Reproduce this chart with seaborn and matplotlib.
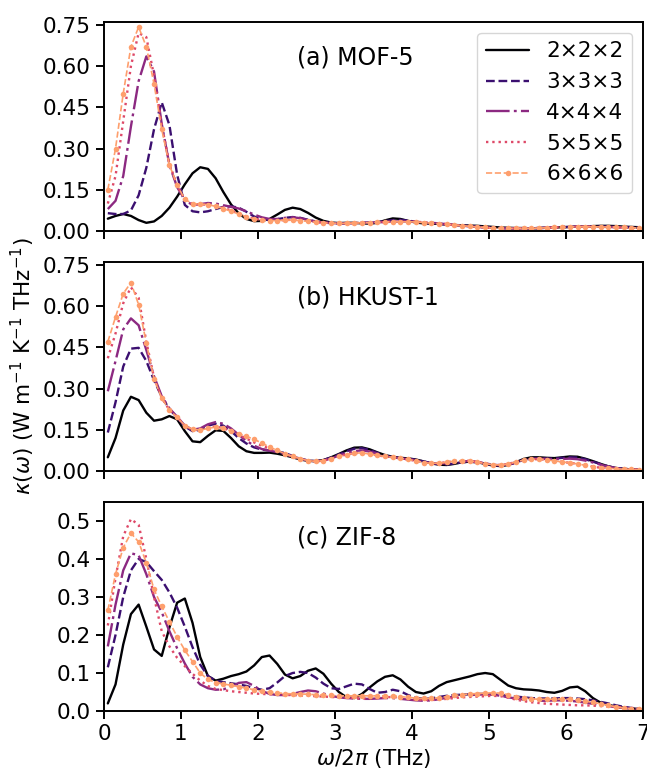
import matplotlib
matplotlib.use("Agg")
import matplotlib.pyplot as plt
import seaborn as sns

# ---------------- data ----------------
FREQ = [0.05, 0.15, 0.25, 0.35, 0.45, 0.55, 0.65, 0.75, 0.85, 0.95,
        1.05, 1.15, 1.25, 1.35, 1.45, 1.55, 1.65, 1.75, 1.85, 1.95,
        2.05, 2.15, 2.25, 2.35, 2.45, 2.55, 2.65, 2.75, 2.85, 2.95,
        3.05, 3.15, 3.25, 3.35, 3.45, 3.55, 3.65, 3.75, 3.85, 3.95,
        4.05, 4.15, 4.25, 4.35, 4.45, 4.55, 4.65, 4.75, 4.85, 4.95,
        5.05, 5.15, 5.25, 5.35, 5.45, 5.55, 5.65, 5.75, 5.85, 5.95,
        6.05, 6.15, 6.25, 6.35, 6.45, 6.55, 6.65, 6.75, 6.85, 6.95]

SUPERCELLS = ["2×2×2", "3×3×3", "4×4×4", "5×5×5", "6×6×6"]
PANEL_LABELS = ["(a) MOF-5", "(b) HKUST-1", "(c) ZIF-8"]

# (a) MOF-5
MOF5_2 = [0.045, 0.055, 0.062, 0.055, 0.040, 0.030, 0.035, 0.055, 0.085, 0.125,
          0.170, 0.210, 0.232, 0.226, 0.192, 0.142, 0.097, 0.064, 0.044, 0.036,
          0.037, 0.044, 0.060, 0.077, 0.085, 0.080, 0.066, 0.049, 0.037, 0.031,
          0.029, 0.030, 0.030, 0.028, 0.027, 0.030, 0.039, 0.046, 0.044, 0.037,
          0.031, 0.028, 0.027, 0.026, 0.024, 0.022, 0.021, 0.020, 0.019, 0.017,
          0.015, 0.013, 0.012, 0.011, 0.011, 0.010, 0.011, 0.012, 0.013, 0.014,
          0.015, 0.016, 0.017, 0.018, 0.019, 0.019, 0.018, 0.016, 0.015, 0.014]
MOF5_3 = [0.065, 0.062, 0.062, 0.075, 0.130, 0.230, 0.370, 0.468, 0.385, 0.205,
          0.095, 0.072, 0.068, 0.072, 0.080, 0.088, 0.090, 0.085, 0.070, 0.053,
          0.043, 0.040, 0.043, 0.048, 0.051, 0.048, 0.041, 0.035, 0.031, 0.029,
          0.028, 0.028, 0.029, 0.030, 0.031, 0.033, 0.036, 0.040, 0.041, 0.038,
          0.034, 0.030, 0.028, 0.026, 0.024, 0.022, 0.020, 0.018, 0.016, 0.014,
          0.012, 0.011, 0.010, 0.010, 0.010, 0.010, 0.011, 0.012, 0.013, 0.014,
          0.015, 0.016, 0.016, 0.017, 0.017, 0.016, 0.015, 0.014, 0.013, 0.012]
MOF5_4 = [0.080, 0.110, 0.200, 0.380, 0.545, 0.635, 0.580, 0.390, 0.240, 0.160,
          0.112, 0.095, 0.098, 0.102, 0.100, 0.094, 0.088, 0.082, 0.072, 0.060,
          0.050, 0.044, 0.044, 0.048, 0.050, 0.047, 0.040, 0.034, 0.031, 0.029,
          0.028, 0.028, 0.029, 0.030, 0.031, 0.032, 0.033, 0.034, 0.035, 0.035,
          0.034, 0.032, 0.030, 0.028, 0.025, 0.022, 0.020, 0.017, 0.015, 0.013,
          0.011, 0.010, 0.010, 0.010, 0.010, 0.010, 0.011, 0.012, 0.013, 0.015,
          0.016, 0.016, 0.016, 0.016, 0.015, 0.015, 0.014, 0.013, 0.012, 0.011]
MOF5_5 = [0.100, 0.200, 0.400, 0.600, 0.720, 0.705, 0.565, 0.385, 0.245, 0.165,
          0.115, 0.098, 0.097, 0.096, 0.092, 0.085, 0.075, 0.064, 0.053, 0.045,
          0.040, 0.038, 0.038, 0.040, 0.041, 0.039, 0.036, 0.033, 0.031, 0.029,
          0.028, 0.028, 0.029, 0.030, 0.031, 0.032, 0.033, 0.034, 0.035, 0.035,
          0.034, 0.032, 0.030, 0.028, 0.025, 0.022, 0.020, 0.017, 0.015, 0.013,
          0.011, 0.010, 0.010, 0.010, 0.010, 0.010, 0.011, 0.012, 0.013, 0.015,
          0.016, 0.016, 0.016, 0.016, 0.015, 0.015, 0.014, 0.013, 0.012, 0.011]
MOF5_6 = [0.150, 0.300, 0.500, 0.670, 0.742, 0.670, 0.535, 0.370, 0.240, 0.168,
          0.115, 0.100, 0.098, 0.096, 0.090, 0.082, 0.072, 0.062, 0.052, 0.044,
          0.040, 0.038, 0.038, 0.040, 0.040, 0.038, 0.035, 0.032, 0.030, 0.029,
          0.028, 0.028, 0.029, 0.030, 0.031, 0.032, 0.033, 0.034, 0.034, 0.034,
          0.033, 0.031, 0.029, 0.027, 0.025, 0.022, 0.020, 0.017, 0.015, 0.013,
          0.011, 0.010, 0.010, 0.010, 0.010, 0.010, 0.011, 0.012, 0.013, 0.014,
          0.015, 0.016, 0.016, 0.016, 0.015, 0.015, 0.014, 0.013, 0.012, 0.011]

# (b) HKUST-1
HKUST_2 = [0.050, 0.120, 0.220, 0.270, 0.258, 0.212, 0.183, 0.188, 0.200, 0.188,
           0.145, 0.108, 0.105, 0.128, 0.148, 0.146, 0.120, 0.090, 0.072, 0.066,
           0.066, 0.067, 0.063, 0.057, 0.050, 0.042, 0.037, 0.036, 0.040, 0.050,
           0.062, 0.075, 0.085, 0.086, 0.079, 0.068, 0.058, 0.052, 0.048, 0.046,
           0.042, 0.035, 0.028, 0.023, 0.022, 0.026, 0.032, 0.034, 0.032, 0.026,
           0.020, 0.018, 0.022, 0.032, 0.044, 0.050, 0.050, 0.048, 0.047, 0.050,
           0.053, 0.052, 0.045, 0.036, 0.026, 0.017, 0.011, 0.008, 0.006, 0.005]
HKUST_3 = [0.140, 0.250, 0.380, 0.445, 0.448, 0.400, 0.330, 0.270, 0.225, 0.195,
           0.162, 0.145, 0.150, 0.165, 0.172, 0.165, 0.145, 0.120, 0.100, 0.086,
           0.078, 0.075, 0.072, 0.065, 0.055, 0.045, 0.038, 0.036, 0.040, 0.049,
           0.060, 0.072, 0.081, 0.083, 0.077, 0.066, 0.056, 0.050, 0.047, 0.045,
           0.041, 0.035, 0.029, 0.025, 0.024, 0.027, 0.032, 0.034, 0.032, 0.027,
           0.022, 0.020, 0.023, 0.031, 0.041, 0.046, 0.046, 0.045, 0.045, 0.048,
           0.050, 0.049, 0.043, 0.034, 0.025, 0.017, 0.011, 0.008, 0.006, 0.005]
HKUST_4 = [0.290, 0.400, 0.515, 0.555, 0.530, 0.440, 0.345, 0.272, 0.228, 0.197,
           0.165, 0.150, 0.155, 0.170, 0.178, 0.172, 0.155, 0.132, 0.110, 0.092,
           0.080, 0.074, 0.069, 0.062, 0.053, 0.045, 0.038, 0.035, 0.038, 0.046,
           0.056, 0.066, 0.073, 0.075, 0.071, 0.063, 0.055, 0.050, 0.046, 0.043,
           0.039, 0.033, 0.029, 0.027, 0.028, 0.031, 0.035, 0.036, 0.033, 0.028,
           0.023, 0.021, 0.024, 0.031, 0.039, 0.044, 0.045, 0.044, 0.043, 0.044,
           0.045, 0.043, 0.038, 0.031, 0.023, 0.016, 0.011, 0.008, 0.006, 0.005]
HKUST_5 = [0.410, 0.500, 0.610, 0.668, 0.630, 0.470, 0.340, 0.266, 0.222, 0.196,
           0.165, 0.150, 0.150, 0.158, 0.162, 0.156, 0.145, 0.132, 0.118, 0.104,
           0.092, 0.082, 0.072, 0.062, 0.052, 0.044, 0.038, 0.035, 0.038, 0.045,
           0.053, 0.060, 0.065, 0.066, 0.062, 0.057, 0.053, 0.050, 0.046, 0.042,
           0.037, 0.031, 0.028, 0.029, 0.032, 0.036, 0.038, 0.037, 0.033, 0.027,
           0.023, 0.022, 0.026, 0.033, 0.040, 0.043, 0.043, 0.041, 0.037, 0.033,
           0.030, 0.026, 0.021, 0.016, 0.012, 0.010, 0.008, 0.007, 0.006, 0.005]
HKUST_6 = [0.470, 0.560, 0.645, 0.685, 0.605, 0.465, 0.335, 0.265, 0.222, 0.195,
           0.165, 0.152, 0.149, 0.155, 0.160, 0.155, 0.146, 0.136, 0.126, 0.115,
           0.102, 0.087, 0.075, 0.063, 0.053, 0.045, 0.038, 0.035, 0.038, 0.045,
           0.053, 0.060, 0.065, 0.066, 0.062, 0.057, 0.053, 0.050, 0.046, 0.042,
           0.037, 0.031, 0.028, 0.029, 0.032, 0.036, 0.038, 0.037, 0.033, 0.027,
           0.023, 0.022, 0.026, 0.033, 0.040, 0.043, 0.043, 0.041, 0.037, 0.033,
           0.030, 0.026, 0.021, 0.016, 0.012, 0.010, 0.008, 0.007, 0.006, 0.005]

# (c) ZIF-8
ZIF8_2 = [0.020, 0.070, 0.175, 0.255, 0.280, 0.222, 0.162, 0.145, 0.220, 0.285,
          0.296, 0.232, 0.142, 0.092, 0.080, 0.085, 0.092, 0.097, 0.104, 0.120,
          0.142, 0.146, 0.124, 0.096, 0.086, 0.092, 0.106, 0.112, 0.098, 0.072,
          0.050, 0.036, 0.034, 0.045, 0.062, 0.078, 0.090, 0.094, 0.083, 0.064,
          0.050, 0.046, 0.052, 0.066, 0.076, 0.081, 0.086, 0.091, 0.097, 0.100,
          0.097, 0.082, 0.067, 0.060, 0.057, 0.056, 0.054, 0.050, 0.048, 0.053,
          0.062, 0.064, 0.052, 0.034, 0.022, 0.016, 0.012, 0.009, 0.007, 0.005]
ZIF8_3 = [0.115, 0.200, 0.300, 0.370, 0.400, 0.392, 0.368, 0.345, 0.312, 0.272,
          0.222, 0.168, 0.122, 0.092, 0.080, 0.076, 0.073, 0.070, 0.066, 0.060,
          0.056, 0.060, 0.075, 0.092, 0.100, 0.103, 0.100, 0.088, 0.072, 0.060,
          0.058, 0.065, 0.072, 0.070, 0.058, 0.048, 0.050, 0.056, 0.052, 0.042,
          0.035, 0.032, 0.033, 0.037, 0.040, 0.042, 0.043, 0.044, 0.045, 0.045,
          0.044, 0.042, 0.040, 0.038, 0.036, 0.034, 0.033, 0.033, 0.033, 0.034,
          0.034, 0.033, 0.031, 0.028, 0.024, 0.020, 0.015, 0.011, 0.008, 0.006]
ZIF8_4 = [0.170, 0.280, 0.370, 0.415, 0.410, 0.360, 0.300, 0.260, 0.210, 0.165,
          0.125, 0.090, 0.070, 0.060, 0.056, 0.057, 0.064, 0.074, 0.076, 0.066,
          0.053, 0.045, 0.042, 0.042, 0.045, 0.050, 0.054, 0.052, 0.046, 0.040,
          0.036, 0.034, 0.033, 0.032, 0.032, 0.033, 0.034, 0.034, 0.032, 0.030,
          0.028, 0.027, 0.028, 0.031, 0.035, 0.038, 0.040, 0.042, 0.043, 0.044,
          0.043, 0.040, 0.036, 0.033, 0.030, 0.028, 0.027, 0.027, 0.028, 0.028,
          0.027, 0.025, 0.022, 0.019, 0.016, 0.013, 0.010, 0.008, 0.006, 0.005]
ZIF8_5 = [0.225, 0.350, 0.460, 0.505, 0.490, 0.400, 0.300, 0.210, 0.170, 0.140,
          0.118, 0.098, 0.080, 0.066, 0.058, 0.055, 0.052, 0.050, 0.048, 0.046,
          0.045, 0.044, 0.043, 0.042, 0.042, 0.041, 0.040, 0.039, 0.038, 0.037,
          0.036, 0.035, 0.034, 0.033, 0.033, 0.034, 0.036, 0.037, 0.035, 0.032,
          0.030, 0.029, 0.029, 0.030, 0.032, 0.034, 0.036, 0.037, 0.038, 0.039,
          0.040, 0.039, 0.035, 0.030, 0.026, 0.023, 0.021, 0.019, 0.018, 0.017,
          0.016, 0.015, 0.015, 0.014, 0.013, 0.012, 0.011, 0.009, 0.008, 0.007]
ZIF8_6 = [0.265, 0.360, 0.430, 0.468, 0.445, 0.390, 0.320, 0.275, 0.235, 0.195,
          0.160, 0.130, 0.100, 0.083, 0.075, 0.071, 0.068, 0.064, 0.060, 0.056,
          0.052, 0.050, 0.048, 0.046, 0.045, 0.045, 0.044, 0.043, 0.042, 0.041,
          0.040, 0.040, 0.040, 0.040, 0.040, 0.040, 0.040, 0.040, 0.038, 0.036,
          0.034, 0.033, 0.033, 0.035, 0.038, 0.041, 0.043, 0.045, 0.046, 0.047,
          0.048, 0.047, 0.043, 0.038, 0.034, 0.032, 0.031, 0.031, 0.031, 0.032,
          0.031, 0.029, 0.026, 0.023, 0.019, 0.015, 0.011, 0.008, 0.006, 0.005]

PANELS = [
    [MOF5_2, MOF5_3, MOF5_4, MOF5_5, MOF5_6],
    [HKUST_2, HKUST_3, HKUST_4, HKUST_5, HKUST_6],
    [ZIF8_2, ZIF8_3, ZIF8_4, ZIF8_5, ZIF8_6],
]

X_TICKS = [0, 1, 2, 3, 4, 5, 6, 7]
Y_TICKS = [
    [0.0, 0.15, 0.30, 0.45, 0.60, 0.75],
    [0.0, 0.15, 0.30, 0.45, 0.60, 0.75],
    [0.0, 0.1, 0.2, 0.3, 0.4, 0.5],
]
Y_LIMS = [(0, 0.76), (0, 0.76), (0, 0.55)]

# ---------------- style ----------------
sns.set_style("ticks")
plt.rcParams.update({
    "font.family": ["DejaVu Sans"],
    "font.size": 15.5,
    "axes.labelsize": 15.5,
    "xtick.labelsize": 15.5,
    "ytick.labelsize": 15.5,
    "legend.fontsize": 15.5,
    "axes.linewidth": 1.4,
    "xtick.major.width": 1.4,
    "ytick.major.width": 1.4,
    "xtick.major.size": 6,
    "ytick.major.size": 6,
    "axes.edgecolor": "black",
    "xtick.color": "black",
    "ytick.color": "black",
    "text.color": "black",
    "axes.labelcolor": "black",
})

cmap = sns.color_palette("magma", as_cmap=True)
COLORS = [cmap(v) for v in (0.0, 0.2, 0.4, 0.6, 0.8)]
STYLES = [
    dict(linestyle="-", linewidth=1.7),
    dict(linestyle="--", linewidth=1.7),
    dict(linestyle=(0, (10, 1.8, 1.2, 1.8)), linewidth=1.7),
    dict(linestyle=":", linewidth=1.7),
    dict(linestyle="--", linewidth=1.2, marker="o", markersize=4.0,
         markeredgewidth=0),
]

fig, axes = plt.subplots(3, 1, figsize=(6.47, 7.7), dpi=100, sharex=True)
fig.subplots_adjust(left=0.1607, right=0.9938, bottom=0.0766, top=0.9714,
                    hspace=0.148)

for p, ax in enumerate(axes):
    for s, vals in enumerate(PANELS[p]):
        kw = dict(STYLES[s])
        if p == 0:
            kw["label"] = SUPERCELLS[s]
        sns.lineplot(x=FREQ, y=vals, ax=ax, color=COLORS[s], legend=False,
                     **kw)
    ax.set_xlim(0, 7)
    ax.set_ylim(*Y_LIMS[p])
    ax.set_yticks(Y_TICKS[p])
    ax.set_xticks(X_TICKS)
    ax.text(0.358, 0.83, PANEL_LABELS[p], transform=ax.transAxes,
            fontsize=17, va="center", ha="left")
    ax.set_ylabel("")
    ax.set_xlabel("")

axes[0].legend(loc="upper right")
axes[1].set_ylabel(r"$\kappa(\omega)$ (W m$^{-1}$ K$^{-1}$ THz$^{-1}$)")
axes[2].set_xlabel(r"$\omega/2\pi$ (THz)", labelpad=2)

fig.savefig("out.png", dpi=100)
